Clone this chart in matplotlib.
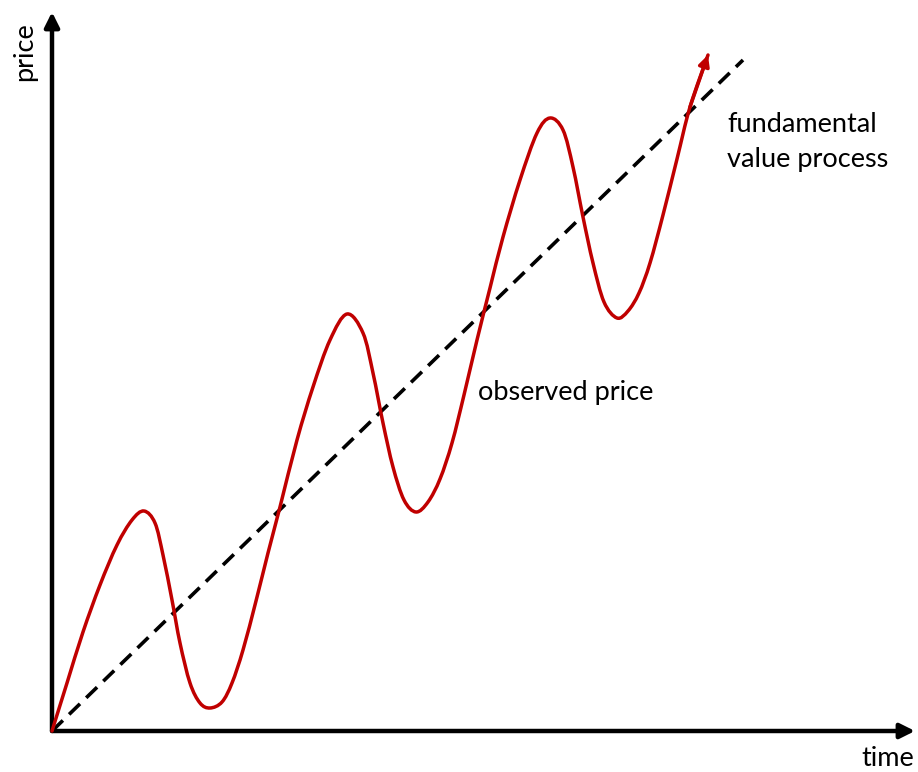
import matplotlib
matplotlib.use('Agg')
import matplotlib.pyplot as plt
from matplotlib.path import Path
from matplotlib.patches import PathPatch

plt.rcParams['font.family'] = ['Lato', 'DejaVu Sans']

# observed price path (arbitrary units)
obs_time = [0.00, 0.15, 0.31, 0.48, 0.65, 0.80, 0.92,
            1.03, 1.11, 1.20, 1.28, 1.38, 1.48, 1.58,
            1.70, 1.80, 1.91, 2.04, 2.16, 2.28, 2.45, 2.61, 2.78, 2.95,
            3.11, 3.21, 3.31, 3.41, 3.52, 3.64,
            3.76, 3.88, 4.00, 4.12, 4.25, 4.38, 4.51, 4.68, 4.85, 4.98,
            5.11, 5.21, 5.31, 5.41, 5.52, 5.65,
            5.76, 5.87, 5.98, 6.11, 6.25, 6.38]
obs_price = [0.00, 0.48, 0.99, 1.46, 1.86, 2.11, 2.20,
             2.08, 1.76, 1.31, 0.88, 0.48, 0.28, 0.23,
             0.29, 0.48, 0.81, 1.30, 1.78, 2.24, 2.91, 3.44, 3.91, 4.17,
             3.98, 3.58, 3.08, 2.64, 2.31, 2.19,
             2.29, 2.52, 2.88, 3.36, 3.91, 4.43, 4.94, 5.51, 5.98, 6.13,
             6.01, 5.64, 5.14, 4.68, 4.29, 4.13,
             4.20, 4.38, 4.68, 5.16, 5.72, 6.24]
obs_tip = (6.56, 6.76)

# fundamental value, straight trend
fund_time = [0.00, 6.91]
fund_value = [0.00, 6.71]

red = '#C00000'


def smooth_path(xs, ys):
    # catmull-rom through the points, drawn as cubic bezier segments
    pts = list(zip(xs, ys))
    verts = [pts[0]]
    codes = [Path.MOVETO]
    n = len(pts)
    for i in range(n - 1):
        p0 = pts[i - 1] if i > 0 else pts[i]
        p1 = pts[i]
        p2 = pts[i + 1]
        p3 = pts[i + 2] if i + 2 < n else pts[i + 1]
        c1 = (p1[0] + (p2[0] - p0[0]) / 6, p1[1] + (p2[1] - p0[1]) / 6)
        c2 = (p2[0] - (p3[0] - p1[0]) / 6, p2[1] - (p3[1] - p1[1]) / 6)
        verts += [c1, c2, p2]
        codes += [Path.CURVE4] * 3
    return Path(verts, codes)


fig = plt.figure(figsize=(9.18, 7.72), dpi=100)
ax = fig.add_axes([0, 0, 1, 1])
ax.set_xlim(-0.52, 8.66)
ax.set_ylim(-0.41, 7.31)
ax.axis('off')

# axes as arrows
ax.annotate('', xy=(8.63, 0), xytext=(0, 0),
            arrowprops=dict(arrowstyle='-|>', lw=3.2, color='black',
                            mutation_scale=22, shrinkA=0, shrinkB=0))
ax.annotate('', xy=(0, 7.19), xytext=(0, 0),
            arrowprops=dict(arrowstyle='-|>', lw=3.2, color='black',
                            mutation_scale=22, shrinkA=0, shrinkB=0))

ax.plot(fund_time, fund_value, color='black', lw=2.6, dashes=(4.2, 2.4), zorder=3)

ax.add_patch(PathPatch(smooth_path(obs_time + [obs_tip[0]], obs_price + [obs_tip[1]]),
                       facecolor='none', edgecolor=red, lw=2.5,
                       capstyle='round', joinstyle='round', zorder=4))
ax.annotate('', xy=obs_tip, xytext=(obs_time[-1], obs_price[-1]),
            arrowprops=dict(arrowstyle='-|>', lw=2.5, color=red,
                            mutation_scale=16, shrinkA=0, shrinkB=0), zorder=4)

fs = 19.5
ax.text(4.26, 3.31, 'observed price', fontsize=fs, ha='left', va='baseline')
ax.text(6.75, 5.99, 'fundamental', fontsize=fs, ha='left', va='baseline')
ax.text(6.75, 5.64, 'value process', fontsize=fs, ha='left', va='baseline')
ax.text(8.09, -0.35, 'time', fontsize=fs, ha='left', va='baseline')
ax.text(-0.27, 6.79, 'price', fontsize=fs, ha='center', va='center', rotation=90)

fig.savefig('out.png', dpi=100)
